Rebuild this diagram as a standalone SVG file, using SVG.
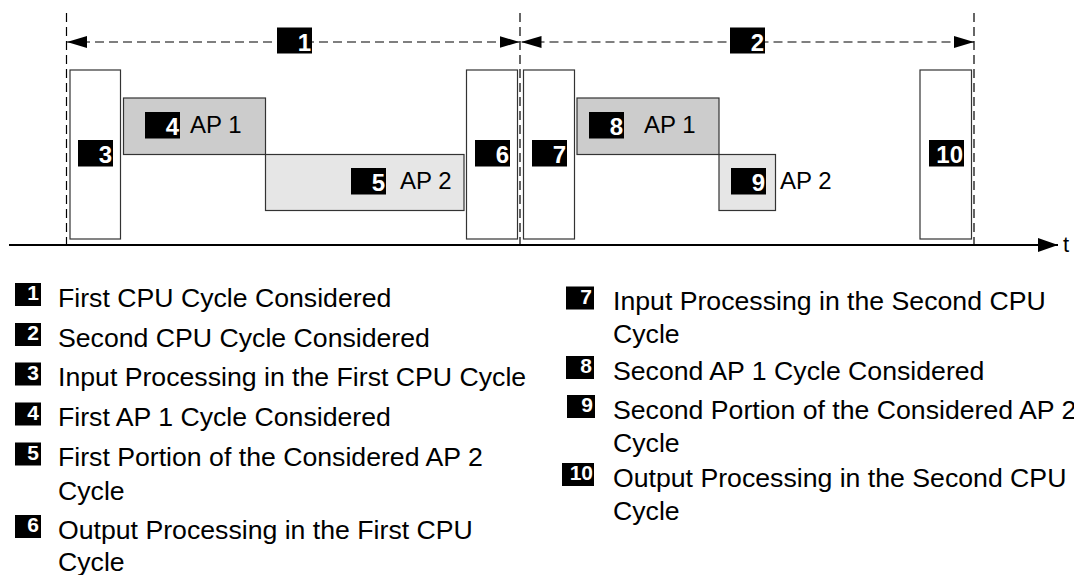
<svg xmlns="http://www.w3.org/2000/svg" width="1074" height="575" viewBox="0 0 1074 575">
<style>
.txt{font-family:"Liberation Sans",Arial,sans-serif;fill:#000}
.lbl{font-family:"Liberation Sans",Arial,sans-serif;font-weight:bold;fill:#fff;text-anchor:end}
.cpu{fill:#fff;stroke:#333;stroke-width:1.2}
.ap1{fill:#cccccc;stroke:#333;stroke-width:1.2}
.ap2{fill:#e6e6e6;stroke:#333;stroke-width:1.2}
.dash{stroke:#000;stroke-width:1.2;stroke-dasharray:9,5;fill:none}
.tag{fill:#000}
</style>
<defs>
<marker id="ah" viewBox="0 0 20 12" refX="20" refY="6" markerWidth="20" markerHeight="12" markerUnits="userSpaceOnUse" orient="auto-start-reverse">
<path d="M0,0 L20,6 L0,12 z" fill="#000"/>
</marker>
<marker id="ta" viewBox="0 0 20 14" refX="20" refY="7" markerWidth="20" markerHeight="14" markerUnits="userSpaceOnUse" orient="auto">
<path d="M0,0 L20,7 L0,14 z" fill="#000"/>
</marker>
</defs>

<g id="connectors">
<line class="dash" x1="66.5" y1="13" x2="66.5" y2="245"/>
<line class="dash" x1="520" y1="13" x2="520" y2="245"/>
<line class="dash" x1="974" y1="13" x2="974" y2="245"/>
<line class="dash" x1="67" y1="42" x2="519.5" y2="42" marker-start="url(#ah)" marker-end="url(#ah)"/>
<line class="dash" x1="521.5" y1="42" x2="974" y2="42" marker-start="url(#ah)" marker-end="url(#ah)"/>
<line x1="9" y1="245" x2="1058" y2="245" stroke="#000" stroke-width="2" marker-end="url(#ta)"/>
<text class="txt" x="1063" y="252" font-size="22">t</text>
</g>

<g id="n3"><rect class="cpu" x="70" y="70" width="50.5" height="169"/><rect class="tag" x="78" y="140" width="35" height="26.5"/><text class="lbl" x="112" y="163" font-size="24">3</text></g>
<g id="n4"><rect class="ap1" x="123.5" y="98" width="142" height="56.5"/><rect class="tag" x="145" y="112" width="35" height="26.5"/><text class="lbl" x="179" y="135" font-size="24">4</text><text class="txt" x="190" y="133" font-size="24">AP 1</text></g>
<g id="n5"><rect class="ap2" x="265.5" y="154.5" width="198.5" height="56"/><rect class="tag" x="351" y="168" width="35" height="26.5"/><text class="lbl" x="385" y="191" font-size="24">5</text><text class="txt" x="400" y="189" font-size="24">AP 2</text></g>
<g id="n6"><rect class="cpu" x="466.5" y="70" width="51" height="169"/><rect class="tag" x="475" y="140" width="35" height="26.5"/><text class="lbl" x="509" y="163" font-size="24">6</text></g>
<g id="n7"><rect class="cpu" x="523.5" y="70" width="51" height="169"/><rect class="tag" x="532" y="140" width="35" height="26.5"/><text class="lbl" x="566" y="163" font-size="24">7</text></g>
<g id="n8"><rect class="ap1" x="577" y="98" width="142" height="56.5"/><rect class="tag" x="589" y="112" width="35" height="26.5"/><text class="lbl" x="623" y="135" font-size="24">8</text><text class="txt" x="644" y="133" font-size="24">AP 1</text></g>
<g id="n9"><rect class="ap2" x="719" y="154.5" width="56.5" height="56"/><rect class="tag" x="731" y="168" width="35" height="26.5"/><text class="lbl" x="765" y="191" font-size="24">9</text><text class="txt" x="780" y="189" font-size="24">AP 2</text></g>
<g id="n10"><rect class="cpu" x="920" y="70" width="51.5" height="169"/><rect class="tag" x="929" y="140" width="35" height="26.5"/><text class="lbl" x="963" y="163" font-size="24">10</text></g>
<g id="n1"><rect class="tag" x="277" y="27.5" width="35" height="26"/><text class="lbl" x="311" y="50.5" font-size="24">1</text></g>
<g id="n2"><rect class="tag" x="730" y="27.5" width="35" height="26"/><text class="lbl" x="764" y="50.5" font-size="24">2</text></g>

<g id="legend">
<g id="leg1"><rect class="tag" x="15" y="283" width="26" height="23"/><text class="lbl" x="39" y="300" font-size="21">1</text><text class="txt" x="58" y="306.5" font-size="26.67">First CPU Cycle Considered</text></g>
<g id="leg2"><rect class="tag" x="15" y="323" width="26" height="23"/><text class="lbl" x="39" y="340" font-size="21">2</text><text class="txt" x="58" y="346.5" font-size="26.67">Second CPU Cycle Considered</text></g>
<g id="leg3"><rect class="tag" x="15" y="362.5" width="26" height="23"/><text class="lbl" x="39" y="379.5" font-size="21">3</text><text class="txt" x="58" y="386" font-size="26.67">Input Processing in the First CPU Cycle</text></g>
<g id="leg4"><rect class="tag" x="15" y="402.5" width="26" height="23"/><text class="lbl" x="39" y="419.5" font-size="21">4</text><text class="txt" x="58" y="426" font-size="26.67">First AP 1 Cycle Considered</text></g>
<g id="leg5"><rect class="tag" x="15" y="442.5" width="26" height="23"/><text class="lbl" x="39" y="459.5" font-size="21">5</text><text class="txt" x="58" y="466" font-size="26.67">First Portion of the Considered AP 2</text><text class="txt" x="58" y="500" font-size="26.67">Cycle</text></g>
<g id="leg6"><rect class="tag" x="15" y="515" width="26" height="23"/><text class="lbl" x="39" y="532" font-size="21">6</text><text class="txt" x="58" y="538.5" font-size="26.67">Output Processing in the First CPU</text><text class="txt" x="58" y="571" font-size="26.67">Cycle</text></g>
<g id="leg7"><rect class="tag" x="566" y="286.5" width="28" height="23"/><text class="lbl" x="592" y="303.5" font-size="21">7</text><text class="txt" x="613" y="310" font-size="26.67">Input Processing in the Second CPU</text><text class="txt" x="613" y="343" font-size="26.67">Cycle</text></g>
<g id="leg8"><rect class="tag" x="566" y="356" width="28" height="23"/><text class="lbl" x="592" y="373" font-size="21">8</text><text class="txt" x="613" y="380" font-size="26.67">Second AP 1 Cycle Considered</text></g>
<g id="leg9"><rect class="tag" x="567" y="395" width="28" height="23"/><text class="lbl" x="593" y="412" font-size="21">9</text><text class="txt" x="613" y="419" font-size="26.67">Second Portion of the Considered AP 2</text><text class="txt" x="613" y="452" font-size="26.67">Cycle</text></g>
<g id="leg10"><rect class="tag" x="562" y="463" width="32" height="23"/><text class="lbl" x="593" y="480" font-size="21">10</text><text class="txt" x="613" y="487" font-size="26.67">Output Processing in the Second CPU</text><text class="txt" x="613" y="520" font-size="26.67">Cycle</text></g>
</g>
</svg>
